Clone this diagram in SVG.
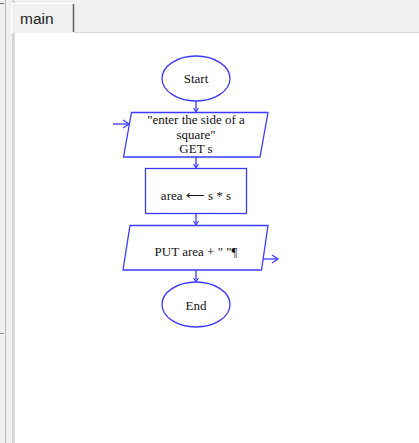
<svg xmlns="http://www.w3.org/2000/svg" width="419" height="443" viewBox="0 0 419 443">
<defs>
<style>
.shape{fill:#ffffff;stroke:#3b3bff;stroke-width:1.3}
.conn{stroke:#3b3bff;stroke-width:1.3;fill:none}
.t{font-family:"Liberation Serif","Times New Roman",serif;font-size:13px;fill:#111;text-anchor:middle}
</style>
<marker id="arr" markerWidth="10" markerHeight="10" refX="8" refY="5" orient="auto" markerUnits="userSpaceOnUse">
<path d="M2,1 L8,5 L2,9" fill="none" stroke="#3b3bff" stroke-width="1.3"/>
</marker>
<marker id="sarr" markerWidth="8" markerHeight="8" refX="6" refY="4" orient="auto" markerUnits="userSpaceOnUse">
<path d="M2,1.5 L6,4 L2,6.5" fill="none" stroke="#3b3bff" stroke-width="1.1"/>
</marker>
</defs>
<!-- window chrome -->
<rect x="0" y="0" width="419" height="443" fill="#f0f0f0"/>
<rect x="15" y="33" width="404" height="410" fill="#ffffff"/>
<line x1="15" y1="32.5" x2="419" y2="32.5" stroke="#d8d8d8" stroke-width="1"/>
<line x1="5.5" y1="0" x2="5.5" y2="443" stroke="#b8b8b8" stroke-width="1"/>
<line x1="0" y1="3.5" x2="4" y2="3.5" stroke="#707070" stroke-width="1"/>
<line x1="0" y1="333.5" x2="4" y2="333.5" stroke="#909090" stroke-width="1"/>
<rect x="12" y="0" width="3" height="443" fill="#d6d6d6"/>
<g id="tab">
<path d="M11.5,33 L11.5,3.5 L73.5,3.5 L73.5,33" fill="#f0f0f0" stroke="#ffffff" stroke-width="1"/>
<line x1="73.5" y1="4" x2="73.5" y2="32" stroke="#606060" stroke-width="1.5"/>
<text x="20" y="24" font-family="'Liberation Sans',Arial,sans-serif" font-size="15.5" fill="#222">main</text>
</g>
<g id="connectors">
<line class="conn" x1="196" y1="101" x2="196" y2="112" marker-end="url(#sarr)"/>
<line class="conn" x1="196" y1="157" x2="196" y2="168" marker-end="url(#sarr)"/>
<line class="conn" x1="196" y1="214" x2="196" y2="225" marker-end="url(#sarr)"/>
<line class="conn" x1="196" y1="270" x2="196" y2="282" marker-end="url(#sarr)"/>
<line class="conn" x1="113" y1="124" x2="129" y2="124" marker-end="url(#arr)"/>
<line class="conn" x1="262" y1="259" x2="278" y2="259" marker-end="url(#arr)"/>
</g>
<g id="start">
<ellipse class="shape" cx="196" cy="78.5" rx="34" ry="22.5"/>
<text class="t" x="196" y="83" font-size="12">Start</text>
</g>
<g id="input">
<polygon class="shape" points="131.5,112.5 268,112.5 260,157 123.5,157"/>
<text class="t" x="196" y="124" font-size="12.5">"enter the side of a</text>
<text class="t" x="196" y="138.5" font-size="12.5">square"</text>
<text class="t" x="196" y="153" font-size="12.5">GET s</text>
</g>
<g id="assign">
<rect class="shape" x="145.5" y="168.5" width="101" height="45"/>
<text class="t" x="196" y="200">area ⟵ s * s</text>
</g>
<g id="output">
<polygon class="shape" points="130,225.5 268,225.5 261.5,270 123,270"/>
<text class="t" x="196" y="256">PUT area + " "¶</text>
</g>
<g id="end">
<ellipse class="shape" cx="196" cy="304.5" rx="34" ry="22.5"/>
<text class="t" x="196" y="310" font-size="14">End</text>
</g>
</svg>
